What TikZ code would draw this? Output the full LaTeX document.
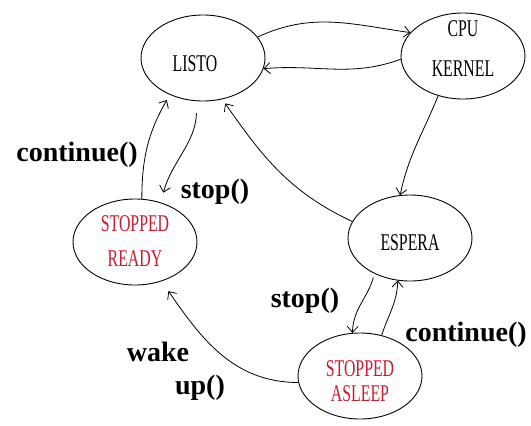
\documentclass[tikz,border=0pt]{standalone}
\usepackage{fontspec}
\setmainfont{Liberation Serif}
\newfontfamily\statefont[FakeStretch=0.66]{Liberation Serif}
\newfontfamily\eventfont{Liberation Serif}
\usetikzlibrary{shapes.geometric,arrows.meta}
\definecolor{stopred}{RGB}{205,25,45}
% two centred lines whose box takes no vertical room, so the ellipse keeps its size
\newcommand{\twolines}[4]{\raisebox{#4}[0pt][0pt]{\begin{tabular}{@{}c@{}}#1\\[#3]#2\end{tabular}}}

\begin{document}
\begin{tikzpicture}[x=1pt,y=1pt,
  state/.style={ellipse, draw, line width=0.9pt, minimum width=124pt,
    minimum height=86pt, inner sep=0pt,
    font=\statefont\fontsize{24}{24}\selectfont},
  stopstate/.style={state, text=stopred},
  trans/.style={line width=0.8pt, -{Straight Barb[length=6pt,width=11pt]}},
  event/.style={font=\eventfont\bfseries\fontsize{28}{30}\selectfont, inner sep=0pt}]
\useasboundingbox (0,0) rectangle (531,-426);

% process states
\node[state]     (listo)  at (203,-58)  {\hspace*{-16pt}\raisebox{-13pt}[0pt][0pt]{LISTO}};
\node[state]     (cpu)    at (463,-56)  {\twolines{CPU}{KERNEL}{16pt}{-2pt}};
\node[stopstate] (ready)  at (135,-242) {\twolines{STOPPED}{READY}{11pt}{-8pt}};
\node[state]     (espera) at (410,-238) {\raisebox{-12pt}[0pt][0pt]{ESPERA}};
\node[stopstate] (asleep) at (360,-376) {\twolines{STOPPED}{ASLEEP}{1pt}{-14pt}};

% transitions
\draw[trans] (listo.21) to[out=25,in=172] (cpu.156);
\draw[trans] (cpu.183) to[out=200,in=5] (listo.350);
\draw[trans] (cpu.238) to[out=248,in=78] (espera.103);
\draw[trans, shorten >=5pt] (espera.164) to[out=155,in=-55] (listo.295);
\draw[trans, shorten >=6pt] (ready.81) to[out=90,in=240] (listo.228);
\draw[trans, shorten <=12pt, shorten >=10pt] (listo.262) to[out=268,in=75] (ready.57);
\draw[trans, shorten <=4pt] (espera.225) to[out=255,in=88] (asleep.100);
\draw[trans] (asleep.62) to[out=72,in=268] (espera.254);
\draw[trans, shorten >=12pt] (asleep.186) to[out=180,in=-55] (ready.304);

% transition labels
\node[event] (lcont)  at (77,-155)  {continue()};
\node[event] (lstop)  at (215,-192) {stop()};
\node[event] (estop)  at (305,-301) {stop()};
\node[event] (econt)  at (466,-335) {continue()};
\node[event] (lwake)  at (158,-352) {wake};
\node[event] (lup)    at (200,-388) {up()};
\end{tikzpicture}
\end{document}
